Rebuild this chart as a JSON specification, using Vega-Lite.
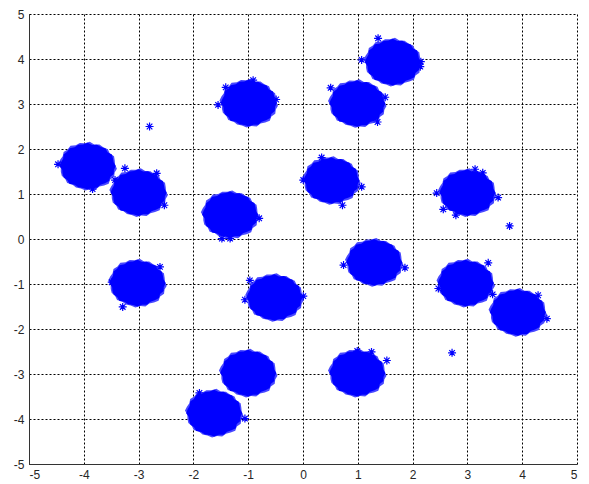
{
  "$schema": "https://vega.github.io/schema/vega-lite/v6.json",
  "width": 548,
  "height": 450,
  "autosize": "none",
  "padding": {"left": 29, "top": 14, "right": 12, "bottom": 20},
  "background": "white",
  "config": {
    "view": {"stroke": null},
    "axis": {
      "labelFont": "Liberation Sans",
      "labelFontSize": 12,
      "labelColor": "#262626",
      "labelExpr": "'' + datum.value",
      "domainColor": "#333333",
      "domainWidth": 1,
      "grid": true,
      "gridColor": "#000000",
      "gridOpacity": 1,
      "gridDash": [2, 2],
      "gridWidth": 1,
      "ticks": false,
      "title": null,
      "labelPadding": 5
    }
  },
  "data": {
    "values": [
      {"k": "c", "x": -3.93, "y": 1.62},
      {"k": "c", "x": -3.0, "y": 1.03},
      {"k": "c", "x": -0.99, "y": 3.02},
      {"k": "c", "x": -1.33, "y": 0.54},
      {"k": "c", "x": 1.64, "y": 3.93},
      {"k": "c", "x": 0.99, "y": 3.01},
      {"k": "c", "x": 0.52, "y": 1.3},
      {"k": "c", "x": 3.0, "y": 1.03},
      {"k": "c", "x": -3.02, "y": -0.98},
      {"k": "c", "x": -0.52, "y": -1.3},
      {"k": "c", "x": -1.0, "y": -2.98},
      {"k": "c", "x": -1.62, "y": -3.87},
      {"k": "c", "x": 1.3, "y": -0.52},
      {"k": "c", "x": 2.97, "y": -0.98},
      {"k": "c", "x": 3.92, "y": -1.63},
      {"k": "c", "x": 0.99, "y": -2.98},
      {"k": "p", "x": -2.8, "y": 2.5},
      {"k": "p", "x": 3.77, "y": 0.29},
      {"k": "p", "x": 2.72, "y": -2.53},
      {"k": "p", "x": 0.505, "y": 3.36},
      {"k": "p", "x": 1.07, "y": 3.98},
      {"k": "p", "x": -1.55, "y": 2.98},
      {"k": "p", "x": -3.84, "y": 1.11},
      {"k": "p", "x": -1.89, "y": -3.42},
      {"k": "p", "x": -1.06, "y": -3.99},
      {"k": "p", "x": -3.29, "y": -1.51},
      {"k": "p", "x": 1.86, "y": -0.64},
      {"k": "p", "x": 0.74, "y": -0.58},
      {"k": "p", "x": 3.38, "y": -0.53},
      {"k": "p", "x": -3.43, "y": 1.31},
      {"k": "p", "x": -3.25, "y": 1.57},
      {"k": "p", "x": -2.67, "y": 1.46},
      {"k": "p", "x": -2.53, "y": 0.75},
      {"k": "p", "x": -4.47, "y": 1.66},
      {"k": "p", "x": -1.41, "y": 3.37},
      {"k": "p", "x": -0.91, "y": 3.53},
      {"k": "p", "x": -0.49, "y": 3.1},
      {"k": "p", "x": -1.48, "y": 0.01},
      {"k": "p", "x": -1.33, "y": 0.01},
      {"k": "p", "x": -0.8, "y": 0.46},
      {"k": "p", "x": 1.37, "y": 4.46},
      {"k": "p", "x": 2.14, "y": 3.83},
      {"k": "p", "x": 2.15, "y": 3.94},
      {"k": "p", "x": 1.5, "y": 3.15},
      {"k": "p", "x": 1.36, "y": 2.6},
      {"k": "p", "x": 0.005, "y": 1.31},
      {"k": "p", "x": 0.34, "y": 1.81},
      {"k": "p", "x": 1.07, "y": 1.16},
      {"k": "p", "x": 0.72, "y": 0.75},
      {"k": "p", "x": 2.44, "y": 1.02},
      {"k": "p", "x": 3.14, "y": 1.55},
      {"k": "p", "x": 3.28, "y": 1.47},
      {"k": "p", "x": 3.56, "y": 0.92},
      {"k": "p", "x": 2.56, "y": 0.66},
      {"k": "p", "x": 2.79, "y": 0.53},
      {"k": "p", "x": -1.06, "y": -1.35},
      {"k": "p", "x": -0.97, "y": -0.92},
      {"k": "p", "x": -3.49, "y": -0.96},
      {"k": "p", "x": -2.61, "y": -0.62},
      {"k": "p", "x": 0.005, "y": -1.27},
      {"k": "p", "x": 2.47, "y": -1.1},
      {"k": "p", "x": 4.45, "y": -1.77},
      {"k": "p", "x": 4.29, "y": -1.25},
      {"k": "p", "x": 3.46, "y": -1.23},
      {"k": "p", "x": 1.53, "y": -2.7},
      {"k": "p", "x": 1.25, "y": -2.51},
      {"k": "p", "x": 0.99, "y": -2.49}
    ]
  },
  "encoding": {
    "x": {
      "field": "x", "type": "quantitative",
      "scale": {"domain": [-5, 5], "nice": false, "zero": false},
      "axis": {"values": [-5, -4, -3, -2, -1, 0, 1, 2, 3, 4, 5]}
    },
    "y": {
      "field": "y", "type": "quantitative",
      "scale": {"domain": [-5, 5], "nice": false, "zero": false},
      "axis": {"values": [-5, -4, -3, -2, -1, 0, 1, 2, 3, 4, 5]}
    }
  },
  "layer": [
    {
      "transform": [{"filter": "datum.k == 'c'"}],
      "mark": {
        "type": "point",
        "shape": "M1,0L0.936,0.137L0.931,0.281L0.805,0.386L0.766,0.534L0.617,0.61L0.46,0.661L0.339,0.772L0.164,0.769L0,0.83L-0.165,0.777L-0.332,0.757L-0.465,0.668L-0.643,0.636L-0.72,0.502L-0.849,0.407L-0.893,0.27L-0.906,0.133L-1,0L-0.946,-0.139L-0.874,-0.264L-0.857,-0.411L-0.728,-0.507L-0.643,-0.636L-0.465,-0.668L-0.332,-0.757L-0.164,-0.769L0,-0.83L0.16,-0.752L0.335,-0.765L0.475,-0.683L0.637,-0.629L0.712,-0.496L0.866,-0.415L0.902,-0.273L0.926,-0.136Z",
        "size": 3450,
        "angle": 5,
        "filled": true,
        "fill": "#4848ff",
        "strokeWidth": 0,
        "opacity": 1
      }
    },
    {
      "transform": [{"filter": "datum.k == 'c'"}],
      "mark": {
        "type": "point",
        "shape": "M1,0L0.936,0.137L0.931,0.281L0.805,0.386L0.766,0.534L0.617,0.61L0.46,0.661L0.339,0.772L0.164,0.769L0,0.83L-0.165,0.777L-0.332,0.757L-0.465,0.668L-0.643,0.636L-0.72,0.502L-0.849,0.407L-0.893,0.27L-0.906,0.133L-1,0L-0.946,-0.139L-0.874,-0.264L-0.857,-0.411L-0.728,-0.507L-0.643,-0.636L-0.465,-0.668L-0.332,-0.757L-0.164,-0.769L0,-0.83L0.16,-0.752L0.335,-0.765L0.475,-0.683L0.637,-0.629L0.712,-0.496L0.866,-0.415L0.902,-0.273L0.926,-0.136Z",
        "size": 3150,
        "filled": true,
        "fill": "#0000ff",
        "strokeWidth": 0,
        "opacity": 1
      }
    },
    {
      "transform": [{"filter": "datum.k == 'p'"}],
      "mark": {
        "type": "point",
        "shape": "M-1,0L1,0M0,-1L0,1M-0.7,-0.7L0.7,0.7M-0.7,0.7L0.7,-0.7",
        "size": 64,
        "filled": false,
        "stroke": "#0000ff",
        "strokeWidth": 1.2,
        "opacity": 1
      }
    }
  ]
}
